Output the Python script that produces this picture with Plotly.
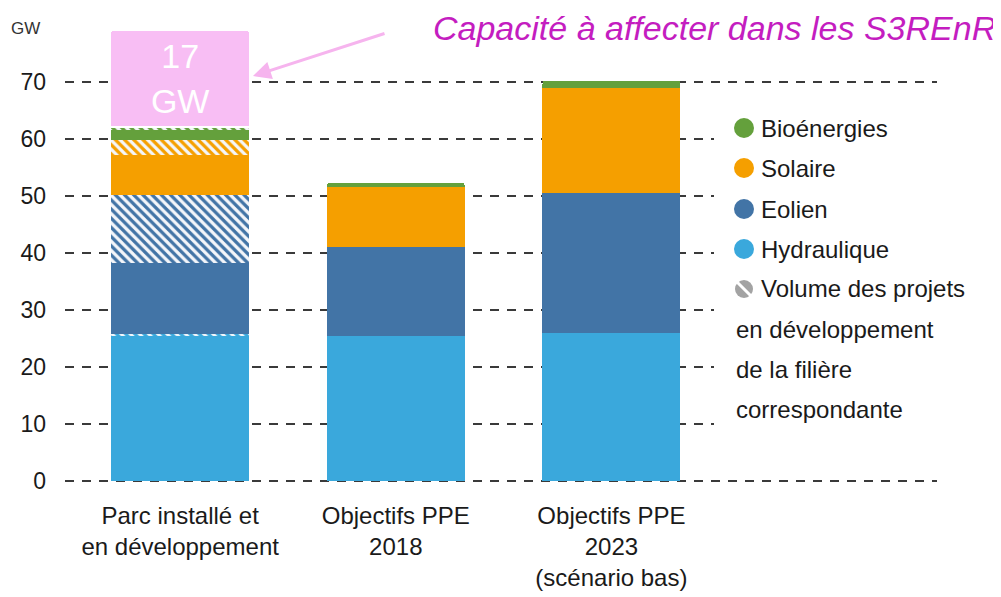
import plotly.graph_objects as go

# ---------------- data ----------------
categories = ["Parc installé et<br>en développement",
              "Objectifs PPE<br>2018",
              "Objectifs PPE<br>2023<br>(scénario bas)"]
hydraulique = [25.4, 25.4, 26.0]
hydraulique_dev = [0.4, 0, 0]
eolien = [12.4, 15.6, 24.5]
eolien_dev = [12.0, 0, 0]
solaire = [7.0, 10.5, 18.5]
solaire_dev = [2.6, 0, 0]
bioenergies = [1.8, 0.9, 1.3]
bioenergies_dev = [0.5, 0, 0]
s3renr = [17, 0, 0]
s3renr_text = ["17<br>GW", "", ""]
y_ticks = [0, 10, 20, 30, 40, 50, 60, 70]

legend_items = ["Bioénergies", "Solaire", "Eolien", "Hydraulique"]
legend_dev = ["Volume des projets", "en développement", "de la filière", "correspondante"]

C_HYD = "#3AA8DC"
C_EOL = "#4274A6"
C_SOL = "#F59F00"
C_BIO = "#64A03C"
C_PINK = "#F8BEF4"
C_MAG = "#C41DC0"
FONT = "Liberation Sans, Arial, sans-serif"

# ------------- geometry helpers (page pixels, body margin 8px) -------------
OFF = 8
W, H = 1001 - OFF, 597 - OFF
L, R, T, B = 65 - OFF, 937 - OFF, 25 - OFF, 482 - OFF


def px(x):
    return (x - OFF - L) / (R - L)


def py(y):
    return (B - (y - OFF)) / (B - T)


fig = go.Figure()


def add_bar(vals, color, name, hatched=False):
    if hatched:
        marker = dict(color=color, line=dict(width=0),
                      pattern=dict(shape="\\", fgcolor=color, bgcolor="#F4F6FA",
                                   fgopacity=1, size=6.5, solidity=0.5))
    else:
        marker = dict(color=color, line=dict(width=0))
    fig.add_trace(go.Bar(x=categories, y=vals, name=name, width=0.64,
                         marker=marker, showlegend=False, hoverinfo="skip"))


add_bar(hydraulique, C_HYD, "Hydraulique")
add_bar(hydraulique_dev, C_HYD, "Hydraulique dev", hatched=True)
add_bar(eolien, C_EOL, "Eolien")
add_bar(eolien_dev, C_EOL, "Eolien dev", hatched=True)
add_bar(solaire, C_SOL, "Solaire")
add_bar(solaire_dev, C_SOL, "Solaire dev", hatched=True)
add_bar(bioenergies, C_BIO, "Bioénergies")
add_bar(bioenergies_dev, C_BIO, "Bioénergies dev", hatched=True)
fig.add_trace(go.Bar(x=categories, y=s3renr, name="S3REnR", width=0.65,
                     marker=dict(color=C_PINK, line=dict(color="white", width=1.5),
                                 cornerradius=4),
                     text=s3renr_text, textposition="inside",
                     insidetextanchor="middle", constraintext="none",
                     textfont=dict(color="white", size=34, family=FONT),
                     showlegend=False, hoverinfo="skip"))

# ------------- legend (manual) -------------
shapes = []
shapes.append(dict(type="rect", xref="paper", yref="paper",
                   x0=px(714), x1=px(940), y0=py(96), y1=py(463),
                   fillcolor="white", line=dict(width=0), layer="above"))
annotations = []
leg_colors = [C_BIO, C_SOL, C_EOL, C_HYD]
row_y = [128, 168, 209, 249]
for name, col, yy in zip(legend_items, leg_colors, row_y):
    shapes.append(dict(type="circle", xref="paper", yref="paper",
                       x0=px(734), x1=px(754), y0=py(yy + 10), y1=py(yy - 10),
                       fillcolor=col, line=dict(width=0), layer="above"))
    annotations.append(dict(text=name, x=px(759), y=py(yy), xref="paper", yref="paper",
                            xanchor="left", yanchor="middle", showarrow=False,
                            font=dict(size=24, color="#1a1a1a", family=FONT)))
shapes.append(dict(type="circle", xref="paper", yref="paper",
                   x0=px(735), x1=px(753), y0=py(298), y1=py(280),
                   fillcolor="#A3A3A3", line=dict(width=0), layer="above"))
shapes.append(dict(type="line", xref="paper", yref="paper",
                   x0=px(737), x1=px(751), y0=py(282), y1=py(296),
                   line=dict(color="white", width=3), layer="above"))
dev_y = [289, 329, 369, 409]
dev_x = [759, 734, 734, 734]
for t, xx, yy in zip(legend_dev, dev_x, dev_y):
    annotations.append(dict(text=t, x=px(xx), y=py(yy), xref="paper", yref="paper",
                            xanchor="left", yanchor="middle", showarrow=False,
                            font=dict(size=24, color="#1a1a1a", family=FONT)))

annotations.append(dict(text="GW", x=px(9), y=py(28), xref="paper", yref="paper",
                        xanchor="left", yanchor="middle", showarrow=False,
                        font=dict(size=17, color="#333333", family=FONT)))
annotations.append(dict(text="<i>Capacité à affecter dans les S3REnR</i>",
                        x=px(998), y=py(28), xref="paper", yref="paper",
                        xanchor="right", yanchor="middle", showarrow=False,
                        font=dict(size=34, color=C_MAG, family=FONT)))
annotations.append(dict(text="", x=px(253), y=py(76), xref="paper", yref="paper",
                        ax=133, ay=-43, axref="pixel", ayref="pixel",
                        showarrow=True, arrowhead=2, arrowsize=1.2, arrowwidth=3,
                        arrowcolor="#F6B4EE", standoff=0))

fig.update_layout(
    width=W, height=H,
    margin=dict(l=L, r=W - R, t=T, b=H - B, autoexpand=False),
    paper_bgcolor="white", plot_bgcolor="white",
    barmode="stack",
    font=dict(family=FONT, color="#1a1a1a"),
    shapes=shapes, annotations=annotations,
    showlegend=False,
)
fig.update_xaxes(range=[-0.534, 3.51], showgrid=False, showline=False, ticks="",
                 automargin=False,
                 tickfont=dict(size=24, color="#1a1a1a", family=FONT),
                 ticklabelstandoff=17)
fig.update_yaxes(range=[-0.2, 80], tickvals=y_ticks, showgrid=True,
                 automargin=False,
                 gridcolor="#3a3a3a", gridwidth=1.5, griddash="9px,8px",
                 zeroline=False, showline=False, ticks="",
                 tickfont=dict(size=23, color="#1a1a1a", family=FONT),
                 ticklabelstandoff=18)

fig.write_html("out.html")
